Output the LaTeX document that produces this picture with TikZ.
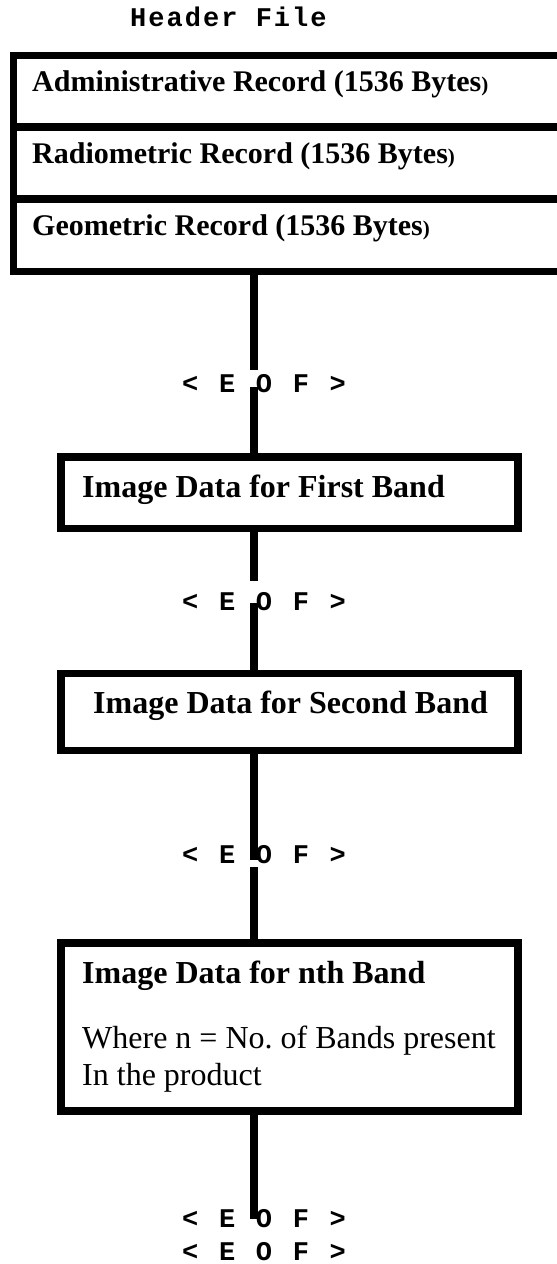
\documentclass[tikz,border=0pt]{standalone}
\usepackage{fontspec}
\setmainfont{Liberation Serif}
\newfontfamily\monofam{Liberation Mono}[LetterSpace=16.5]
\newfontfamily\monohdr{Liberation Mono}[LetterSpace=7.5]
\frenchspacing
\tikzset{
  frame/.style={draw=black,line width=7.5pt,inner sep=0pt,outer sep=0pt},
  conn/.style={draw=black,line width=7.5pt},
  rec/.style={font=\bfseries\fontsize{30}{34}\selectfont,anchor=base west,inner sep=0pt},
  band/.style={font=\bfseries\fontsize{32}{36}\selectfont,anchor=base west,inner sep=0pt},
  plain/.style={font=\fontsize{32}{36}\selectfont,anchor=base west,inner sep=0pt},
  eof/.style={font=\monofam\bfseries\fontsize{27}{30}\selectfont,anchor=base west,inner sep=0pt},
  hdrstyle/.style={font=\monohdr\bfseries\fontsize{27}{30}\selectfont,anchor=base west,inner sep=0pt},
}
\newcommand{\smallparen}{{\fontsize{21}{24}\selectfont)}}
\begin{document}
\begin{tikzpicture}[x=1pt,y=-1pt]
\useasboundingbox (0,0) rectangle (557,1264);
\begin{scope}
\clip (0,0) rectangle (557,1264);
% header file records
\node[frame,minimum width=551.5pt,minimum height=71.5pt] (adm) at (289.25,91.25) {};
\node[frame,minimum width=551.5pt,minimum height=72pt] (rad) at (289.25,163) {};
\node[frame,minimum width=551.5pt,minimum height=72.5pt] (geo) at (289.25,235.25) {};
\end{scope}
\node[hdrstyle] (hdr) at (130,26) {Header File};
\node[rec] (admt) at (32,91) {Administrative Record (1536 Bytes\smallparen};
\node[rec] (radt) at (32,163) {Radiometric Record (1536 Bytes\smallparen};
\node[rec] (geot) at (32,235) {Geometric Record (1536 Bytes\smallparen};
% band boxes
\node[frame,minimum width=457pt,minimum height=71.5pt] (b1) at (289.5,492.75) {};
\node[frame,minimum width=457pt,minimum height=77pt] (b2) at (289.5,712) {};
\node[frame,minimum width=457pt,minimum height=168pt] (bn) at (289.5,1027) {};
\node[band] (b1t) at (82,497) {Image Data for First Band};
\node[band] (b2t) at (93,713) {Image Data for Second Band};
\node[band] (bnt) at (82,983) {Image Data for nth Band};
\node[plain] (bnw) at (82,1048) {Where n = No. of Bands present};
\node[plain] (bni) at (82,1085) {In the product};
% connector end points
\coordinate (u1) at (254,370);
\coordinate (l1) at (254,387);
\coordinate (u2) at (254,581);
\coordinate (l2) at (254,603);
\coordinate (u3) at (254,860);
\coordinate (l3) at (254,867);
\coordinate (u4) at (254,1219);
\draw[conn] (geo.south -| u1) -- (u1);
\draw[conn] (l1) -- (l1 |- b1.north);
\draw[conn] (b1.south -| u2) -- (u2);
\draw[conn] (l2) -- (l2 |- b2.north);
\draw[conn] (b2.south -| u3) -- (u3);
\draw[conn] (l3) -- (l3 |- bn.north);
\draw[conn] (bn.south -| u4) -- (u4);
% EOF marks
\node[eof] (e1) at (182,392) {< E O F >};
\node[eof] (e2) at (182,610) {< E O F >};
\node[eof] (e3) at (182,863) {< E O F >};
\node[eof] (e4) at (182,1227) {< E O F >};
\node[eof] (e5) at (182,1260) {< E O F >};
\end{tikzpicture}
\end{document}
